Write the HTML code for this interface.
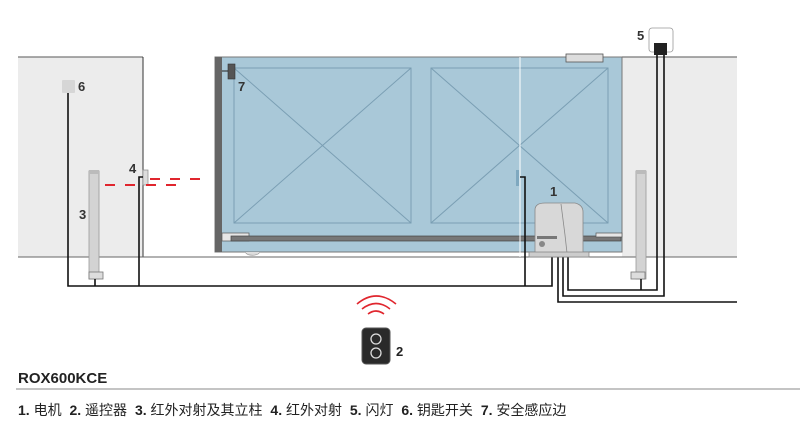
<!DOCTYPE html>
<html><head><meta charset="utf-8"><style>
body{margin:0;background:#fff;width:800px;height:439px;overflow:hidden}
svg{display:block}
</style></head><body>
<svg width="800" height="439" viewBox="0 0 800 439" xmlns="http://www.w3.org/2000/svg" font-family="Liberation Sans, Noto Sans CJK SC, sans-serif">
<rect x="18" y="57" width="125" height="200" fill="#ececec"/>
<line x1="18" y1="57" x2="143" y2="57" stroke="#777" stroke-width="1.2"/>
<line x1="143" y1="57" x2="143" y2="257" stroke="#333" stroke-width="1"/>
<rect x="622" y="57" width="115" height="200" fill="#ececec"/>
<line x1="622" y1="57" x2="737" y2="57" stroke="#777" stroke-width="1.2"/>
<line x1="18" y1="257" x2="737" y2="257" stroke="#666" stroke-width="1"/>
<rect x="215" y="57" width="407" height="195" fill="#a9c8d8" stroke="#777" stroke-width="1"/>
<rect x="215" y="57" width="7" height="195" fill="#666"/>
<g stroke="#7a9eb3" stroke-width="1" fill="none">
<rect x="234" y="68" width="177" height="155"/>
<line x1="234" y1="68" x2="411" y2="223"/><line x1="411" y1="68" x2="234" y2="223"/>
<rect x="431" y="68" width="177" height="155"/>
<line x1="431" y1="68" x2="608" y2="223"/><line x1="608" y1="68" x2="431" y2="223"/>
</g>
<rect x="222" y="233" width="27" height="8" fill="#e6e6e6" stroke="#555" stroke-width="0.7"/>
<rect x="231" y="236" width="390" height="5" fill="#777" stroke="#444" stroke-width="0.7"/>
<rect x="596" y="233" width="26" height="4" fill="#e6e6e6" stroke="#555" stroke-width="0.7"/>
<path d="M245 252 A8 5 0 0 0 260 252" fill="#ddd" stroke="#999" stroke-width="0.7"/>
<line x1="520" y1="57" x2="520" y2="257" stroke="#fff" stroke-width="1"/>
<rect x="566" y="54" width="37" height="8" fill="#ddd" stroke="#555" stroke-width="0.8"/>
<rect x="516" y="170" width="3" height="16" fill="#7fa8bf"/>
<rect x="228" y="64" width="7" height="15" fill="#555" stroke="#333" stroke-width="0.6"/>
<line x1="222" y1="71" x2="228" y2="71" stroke="#222" stroke-width="1"/>
<text x="238" y="91" font-size="13" font-weight="bold" fill="#333">7</text>
<rect x="62" y="80" width="13" height="13" fill="#d6d6d6" rx="1"/>
<text x="78" y="91" font-size="13" font-weight="bold" fill="#333">6</text>
<rect x="89" y="171" width="10" height="108" fill="#d3d3d3" stroke="#999" stroke-width="0.8"/>
<rect x="89" y="170" width="10" height="4" fill="#bbb"/>
<rect x="89" y="272" width="14" height="7" fill="#ddd" stroke="#777" stroke-width="0.8"/>
<text x="79" y="219" font-size="13" font-weight="bold" fill="#333">3</text>
<rect x="143" y="170" width="5" height="15" fill="#ddd" stroke="#888" stroke-width="0.7"/>
<text x="129" y="173" font-size="13" font-weight="bold" fill="#333">4</text>
<g stroke="#e0262e" stroke-width="2">
<line x1="105" y1="185" x2="115" y2="185"/><line x1="125" y1="185" x2="135" y2="185"/><line x1="146" y1="185" x2="156" y2="185"/><line x1="166" y1="185" x2="176" y2="185"/>
<line x1="150" y1="179" x2="160" y2="179"/><line x1="170" y1="179" x2="180" y2="179"/><line x1="190" y1="179" x2="200" y2="179"/>
</g>
<rect x="636" y="171" width="10" height="108" fill="#d3d3d3" stroke="#999" stroke-width="0.8"/>
<rect x="636" y="170" width="10" height="4" fill="#bbb"/>
<rect x="631" y="272" width="14" height="7" fill="#ddd" stroke="#777" stroke-width="0.8"/>
<rect x="649" y="28" width="24" height="24" rx="3" fill="#fff" stroke="#999" stroke-width="0.8"/>
<rect x="654" y="43" width="13" height="12" fill="#222"/>
<text x="637" y="40" font-size="13" font-weight="bold" fill="#333">5</text>
<g stroke="#111" stroke-width="1.6" fill="none">
<polyline points="68,93 68,286 552,286 552,257"/>
<polyline points="139,286 139,177 143,177"/>
<polyline points="95,279 95,286"/>
<polyline points="525,286 525,177 520,177"/>
<polyline points="558,257 558,302 737,302"/>
<polyline points="563,257 563,296 664,296 664,55"/>
<polyline points="568,257 568,290 657,290 657,55"/>
<polyline points="641,279 641,290"/>
</g>
<path d="M535 253 L535 210 Q535 203 545 203 L575 203 Q583 205 583 212 L583 253 Z" fill="#d8d8d8" stroke="#888" stroke-width="0.8"/>
<path d="M561 204 Q563 220 565 235 L567 253" fill="none" stroke="#888" stroke-width="0.8"/>
<rect x="537" y="236" width="20" height="3" fill="#777"/>
<circle cx="542" cy="244" r="3" fill="#888"/>
<rect x="529" y="252" width="60" height="5" fill="#ccc" stroke="#888" stroke-width="0.8"/>
<text x="550" y="196" font-size="13" font-weight="bold" fill="#333">1</text>
<g fill="none" stroke="#e0262e" stroke-width="1.6">
<path d="M357 304 Q376 288 396 304"/><path d="M362 309 Q376 298 390 309"/><path d="M368 314 Q376 308 384 314"/>
</g>
<rect x="362" y="328" width="28" height="36" rx="4" fill="#2a2a2a" stroke="#555"/>
<circle cx="376" cy="339" r="5" fill="none" stroke="#ddd" stroke-width="1.3"/>
<circle cx="376" cy="353" r="5" fill="none" stroke="#ddd" stroke-width="1.3"/>
<text x="396" y="356" font-size="13" font-weight="bold" fill="#222">2</text>
<text x="18" y="383" font-size="15" font-weight="bold" fill="#222">ROX600KCE</text>
<line x1="16" y1="389" x2="800" y2="389" stroke="#888" stroke-width="1"/>
<text x="18" y="415" font-size="14" fill="#222"><tspan font-weight="bold">1.</tspan> 电机 <tspan font-weight="bold" dx="4">2.</tspan> 遥控器 <tspan font-weight="bold" dx="4">3.</tspan> 红外对射及其立柱 <tspan font-weight="bold" dx="4">4.</tspan> 红外对射 <tspan font-weight="bold" dx="4">5.</tspan> 闪灯 <tspan font-weight="bold" dx="4">6.</tspan> 钥匙开关 <tspan font-weight="bold" dx="4">7.</tspan> 安全感应边</text>
</svg>
</body></html>
